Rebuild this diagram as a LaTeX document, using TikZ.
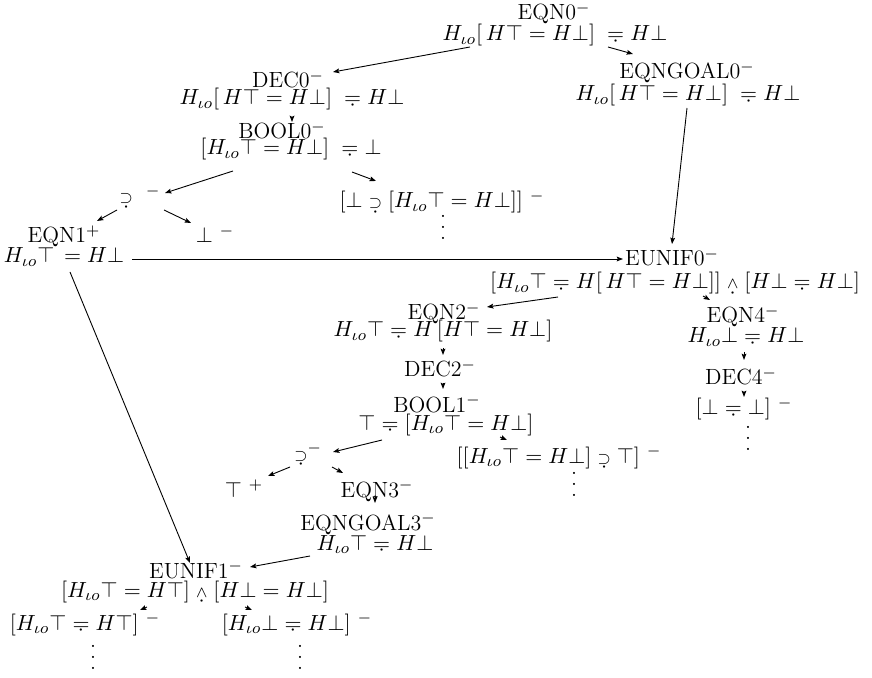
\documentclass[tikz,border=0pt]{standalone}
\usetikzlibrary{arrows.meta}
\newcommand{\Hio}{H_{\iota o}}
\newcommand{\udot}[2][0.62ex]{\mathrel{\hbox{\ooalign{$#2$\cr\hidewidth\raisebox{-#1}{$\cdot$}\hidewidth\cr}}}}
\newcommand{\dsup}{\udot[0.95ex]{\scriptstyle\supset}}
\newcommand{\dand}{\udot[0.95ex]{\scriptstyle\wedge}}
\newcommand{\vdts}{\vbox{\baselineskip5.5pt\lineskiplimit0pt\hbox{.}\hbox{.}\hbox{.}}}
\tikzset{
  lbl/.style={anchor=base, inner sep=0pt, font=\fontsize{11}{13}\selectfont},
  dts/.style={anchor=north, inner sep=0pt, font=\fontsize{11}{13}\selectfont},
  arr/.style={-{Stealth[length=3.2pt,width=2.4pt,inset=0.6pt]}, line width=0.45pt}
}
\begin{document}
\begin{tikzpicture}[x=0.5pt,y=-0.5pt]
\useasboundingbox (0,0) rectangle (872,678);
% nodes
\node[lbl] (n0h) at (554,20) {EQN0$^{-}$};
\node[lbl] (n0f) at (555,41) {$\Hio[\,H\top = H\bot]\; \udot{=} H\bot$};
\node[lbl] (g0h) at (687,79) {EQNGOAL0$^{-}$};
\node[lbl] (g0f) at (688,101) {$\Hio[\,H\top = H\bot]\; \udot{=} H\bot$};
\node[lbl] (d0h) at (288,88) {DEC0$^{-}$};
\node[lbl] (d0f) at (292,105) {$\Hio[\,H\top = H\bot]\; \udot{=} H\bot$};
\node[lbl] (b0h) at (282,139) {BOOL0$^{-}$};
\node[lbl] (b0f) at (291,155) {$[\Hio\top = H\bot]\; \udot{=} \bot$};
\node[lbl] (s0) at (140,203) {$\dsup~{}^{-}$};
\node[lbl] (lb0) at (442,208) {$[\bot \dsup [\Hio\top = H\bot]]~{}^{-}$};
\node[dts] (v0) at (443,215) {\vdts};
\node[lbl] (e1h) at (64,243) {EQN1$^{+}$};
\node[lbl] (e1f) at (64,263) {$\Hio\top\, = H\bot$};
\node[lbl] (bt0) at (215,243) {$\bot~{}^{-}$};
\node[lbl] (u0h) at (672,266) {EUNIF0$^{-}$};
\node[lbl] (u0f) at (675,289) {$[\Hio\top \udot{=} H[\,H\top = H\bot]] \dand [H\bot \udot{=} H\bot]$};
\node[lbl] (e2h) at (444,320) {EQN2$^{-}$};
\node[lbl] (e2f) at (443,337) {$\Hio\top \udot{=} H\,[H\top = H\bot]$};
\node[lbl] (d2h) at (440,377) {DEC2$^{-}$};
\node[lbl] (b1h) at (437,412) {BOOL1$^{-}$};
\node[lbl] (b1f) at (446,430) {$\top \udot{=} [\Hio\top = H\bot]$};
\node[lbl] (lb1) at (559,463) {$[[\Hio\top = H\bot] \dsup \top]~{}^{-}$};
\node[dts] (v1) at (574,472) {\vdts};
\node[lbl] (s1) at (308,460) {${\dsup}^{-}$};
\node[lbl] (t1) at (244,497) {$\top~{}^{+}$};
\node[lbl] (e3h) at (377,497) {EQN3$^{-}$};
\node[lbl] (g3h) at (368,530) {EQNGOAL3$^{-}$};
\node[lbl] (g3f) at (375,550) {$\Hio\top \udot{=} H\bot$};
\node[lbl] (u1h) at (196,578) {EUNIF1$^{-}$};
\node[lbl] (u1f) at (195,597) {$[\Hio\top = H\top] \dand [H\bot = H\bot]$};
\node[lbl] (l1) at (85,630) {$[\Hio\top \udot{=} H\top]~{}^{-}$};
\node[lbl] (l2) at (297,630) {$[\Hio\bot \udot{=} H\bot]~{}^{-}$};
\node[dts] (v2) at (93,645) {\vdts};
\node[dts] (v3) at (300,645) {\vdts};
\node[lbl] (e4h) at (743,323) {EQN4$^{-}$};
\node[lbl] (e4f) at (746,343) {$\Hio\bot \udot{=} H\bot$};
\node[lbl] (d4h) at (741,385) {DEC4$^{-}$};
\node[lbl] (l4) at (744,415) {$[\bot \udot{=} \bot]~{}^{-}$};
\node[dts] (v4) at (748,426) {\vdts};
% arrows
\draw[arr] ([shift={(-85,6)}]n0f.base) -- ([shift={(45,-16)}]d0h.base);
\draw[arr] ([shift={(53,6)}]n0f.base) -- ([shift={(-54,-25)}]g0h.base);
\draw[arr] ([shift={(-1,7)}]g0f.base) -- ([shift={(0,-22)}]u0h.base);
\draw[arr] ([shift={(0,12)}]d0f.base) -- ([shift={(10,-17)}]b0h.base);
\draw[arr] ([shift={(-58,16)}]b0f.base) -- ([shift={(25,-10)}]s0.base);
\draw[arr] ([shift={(61,17)}]b0f.base) -- ([shift={(-66,-27)}]lb0.base);
\draw[arr] ([shift={(-23,7)}]s0.base) -- ([shift={(33,-22)}]e1h.base);
\draw[arr] ([shift={(24,7)}]s0.base) -- ([shift={(-24,-20)}]bt0.base);
\draw[arr] ([shift={(68,-4)}]e1f.base) -- ([shift={(-49,-7)}]u0h.base);
\draw[arr] ([shift={(6,9)}]e1f.base) -- ([shift={(-6,-15)}]u1h.base);
\draw[arr] ([shift={(-117,8)}]u0f.base) -- ([shift={(43,-13)}]e2h.base);
\draw[arr] ([shift={(28,7)}]u0f.base) -- ([shift={(-33,-23)}]e4h.base);
\draw[arr] ([shift={(0,11)}]e2f.base) -- ([shift={(3,-22)}]d2h.base);
\draw[arr] ([shift={(3,6)}]d2h.base) -- ([shift={(6,-23)}]b1h.base);
\draw[arr] ([shift={(-64,10)}]b1f.base) -- ([shift={(25,-8)}]s1.base);
\draw[arr] ([shift={(54,7)}]b1f.base) -- ([shift={(-52,-23)}]lb1.base);
\draw[arr] ([shift={(-18,7)}]s1.base) -- ([shift={(24,-21)}]t1.base);
\draw[arr] ([shift={(24,7)}]s1.base) -- ([shift={(-34,-24)}]e3h.base);
\draw[arr] ([shift={(-2,0)}]e3h.base) -- ([shift={(7,-27)}]g3h.base);
\draw[arr] ([shift={(-65,6)}]g3f.base) -- ([shift={(54,-11)}]u1h.base);
\draw[arr] ([shift={(-48,10)}]u1f.base) -- ([shift={(55,-20)}]l1.base);
\draw[arr] ([shift={(50,10)}]u1f.base) -- ([shift={(-45,-20)}]l2.base);
\draw[arr] ([shift={(-2,9)}]e4f.base) -- ([shift={(3,-25)}]d4h.base);
\draw[arr] ([shift={(3,7)}]d4h.base) -- ([shift={(0,-18)}]l4.base);
\end{tikzpicture}
\end{document}
